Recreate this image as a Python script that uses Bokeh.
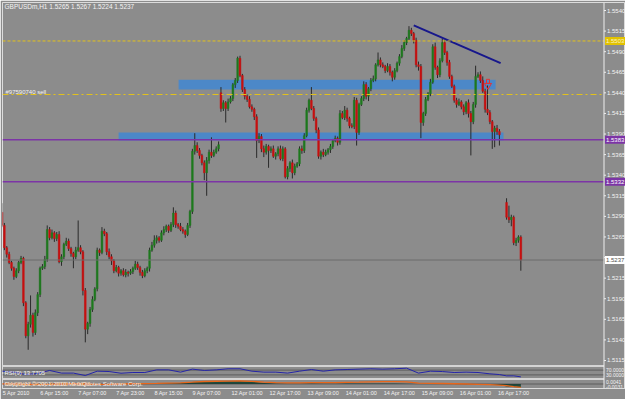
from bokeh.plotting import figure
from bokeh.models import Range1d, FixedTicker, Span, Label
from bokeh.core.properties import value
from bokeh.embed import file_html
from bokeh.resources import INLINE

# ---------------- chart values ----------------
chart_title = "GBPUSDm,H1  1.5265 1.5267 1.5224 1.5237"
order_label = "#97590740 sell"
rsi_label = "RSI(9) 13.7705"
macd_label = "MACD(12,26,9) -0.0030 -0.0028"
copyright_label = "Copyright \u00a9 2001-2010 MetaQuotes Software Corp."

# hourly closes, one per bar (None = no bar drawn)
closes = [
    1.5279, 1.5252, 1.5244, 1.5234, 1.5227, 1.5217, 1.5224, 1.5234, 1.5239, 1.5185,
    1.5145, 1.5159, 1.5170, 1.5149, 1.5173, 1.5195, 1.5227, 1.5229, 1.5238, 1.5274,
    1.5264, 1.5270, 1.5263, 1.5268, 1.5235, 1.5241, 1.5256, 1.5260, 1.5251, 1.5245,
    1.5241, 1.5249, 1.5252, 1.5247, 1.5200, 1.5153, 1.5160, 1.5177, 1.5189, 1.5202,
    1.5249, 1.5246, 1.5272, 1.5269, 1.5247, 1.5241, 1.5236, 1.5224, 1.5228, 1.5221,
    1.5224, 1.5219, 1.5222, 1.5221, 1.5223, 1.5227, 1.5232, 1.5228, 1.5222, 1.5218,
    1.5224, 1.5227, 1.5249, 1.5255, 1.5261, 1.5264, 1.5261, 1.5270, 1.5274, 1.5278,
    1.5273, 1.5280, 1.5294, 1.5280, 1.5278, 1.5274, 1.5272, 1.5268, 1.5279, 1.5296,
    1.5369, 1.5376, 1.5370, 1.5364, 1.5355, 1.5343, 1.5358, 1.5368, 1.5364, 1.5368,
    1.5372, 1.5377, 1.5421, 1.5428, 1.5421, 1.5429, 1.5433, 1.5450, 1.5455, 1.5482,
    1.5461, 1.5444, 1.5436, 1.5432, 1.5423, 1.5420, 1.5411, 1.5382, 1.5387, 1.5372,
    1.5368, 1.5375, 1.5370, 1.5372, 1.5363, 1.5366, 1.5372, 1.5360, 1.5372, 1.5338,
    1.5348, 1.5355, 1.5343, 1.5351, 1.5354, 1.5372, 1.5370, 1.5388, 1.5419, 1.5431,
    1.5421, 1.5409, 1.5395, 1.5363, 1.5368, 1.5365, 1.5368, 1.5371, 1.5375, 1.5382,
    1.5385, 1.5380, 1.5415, 1.5410, 1.5419, 1.5409, 1.5400, 1.5399, 1.5431, 1.5392,
    1.5426, 1.5433, 1.5450, 1.5436, 1.5445, 1.5455, 1.5457, 1.5474, 1.5480, 1.5474,
    1.5472, 1.5467, 1.5472, 1.5465, 1.5459, 1.5467, 1.5476, 1.5484, 1.5494, 1.5501,
    1.5506, 1.5516, 1.5512, 1.5504, 1.5474, 1.5472, 1.5404, 1.5415, 1.5432, 1.5439,
    1.5453, 1.5496, 1.5471, 1.5462, 1.5479, 1.5501, 1.5489, 1.5477, 1.5460, 1.5448,
    1.5431, 1.5426, 1.5429, 1.5423, 1.5417, 1.5428, 1.5415, 1.5405, 1.5426, 1.5460,
    1.5462, 1.5455, 1.5442, 1.5420, 1.5416, 1.5405, 1.5393, 1.5397, 1.5393, 1.5389,
    None, None, 1.5289, 1.5286, 1.5289, 1.5258, 1.5261, 1.5265, 1.5237,
]
# opens that do not follow the previous close (start, weekend gap, data gap)
gap_opens = {0: 1.5295, 92: 1.5440, 212: 1.5307}
# wick lengths above / below the body, in pips
upper_wick_pips = [
    11, 3, 2, 3, 2, 2, 3, 2, 3, 2,
    2, 3, 24, 3, 4, 3, 2, 3, 4, 5,
    3, 4, 2, 3, 4, 3, 2, 4, 3, 2,
    2, 4, 33, 3, 2, 3, 2, 3, 4, 2,
    3, 2, 5, 3, 2, 4, 3, 2, 3, 2,
    2, 3, 4, 2, 3, 2, 4, 3, 2, 3,
    3, 2, 3, 4, 6, 3, 2, 3, 4, 2,
    2, 3, 7, 3, 2, 4, 3, 2, 3, 2,
    3, 15, 4, 3, 2, 3, 4, 3, 18, 3,
    3, 4, 7, 3, 2, 4, 3, 2, 3, 2,
    3, 2, 3, 2, 4, 3, 2, 3, 4, 3,
    4, 3, 2, 3, 4, 2, 3, 4, 3, 2,
    3, 2, 4, 3, 2, 3, 4, 3, 3, 2,
    16, 3, 2, 3, 2, 4, 3, 2, 3, 2,
    3, 2, 4, 3, 5, 3, 2, 3, 4, 3,
    2, 3, 4, 3, 2, 3, 4, 2, 9, 3,
    3, 2, 4, 3, 2, 3, 2, 3, 4, 3,
    2, 5, 3, 2, 3, 4, 3, 2, 3, 2,
    4, 3, 5, 2, 3, 5, 3, 2, 3, 2,
    2, 3, 4, 2, 3, 2, 4, 3, 3, 13,
    3, 4, 5, 3, 29, 3, 2, 3, 4, 3,
    0, 0, 5, 14, 3, 2, 3, 2, 2,
]
lower_wick_pips = [
    2, 3, 4, 2, 3, 4, 2, 3, 2, 4,
    3, 17, 4, 5, 3, 4, 3, 2, 3, 3,
    3, 2, 4, 3, 2, 5, 3, 2, 3, 4,
    14, 3, 2, 3, 6, 16, 6, 4, 3, 2,
    3, 4, 2, 3, 4, 3, 5, 3, 2, 4,
    3, 2, 3, 4, 2, 3, 2, 3, 4, 3,
    2, 3, 4, 2, 3, 4, 3, 2, 3, 3,
    3, 2, 3, 4, 3, 2, 3, 4, 2, 3,
    3, 4, 3, 4, 3, 9, 28, 4, 3, 2,
    2, 3, 4, 3, 17, 3, 2, 3, 4, 3,
    2, 3, 4, 3, 2, 3, 4, 21, 3, 4,
    6, 3, 21, 3, 2, 4, 3, 2, 3, 2,
    3, 4, 7, 3, 2, 3, 4, 3, 2, 3,
    2, 3, 4, 3, 4, 3, 2, 3, 4, 3,
    2, 4, 3, 2, 3, 4, 3, 2, 3, 16,
    3, 2, 3, 4, 6, 3, 2, 3, 2, 3,
    2, 3, 2, 4, 5, 3, 2, 3, 2, 3,
    3, 2, 3, 4, 3, 5, 19, 4, 3, 2,
    3, 2, 3, 4, 3, 2, 3, 4, 3, 2,
    3, 4, 2, 3, 4, 3, 5, 41, 3, 4,
    2, 3, 2, 4, 3, 3, 21, 19, 4, 13,
    0, 0, 3, 4, 8, 3, 4, 3, 13,
]

# drawn objects
resistance_zone = dict(left=74.2, right=207.4, bottom=1.5444, top=1.5456)
support_zone = dict(left=49.0, right=210.7, bottom=1.5382, top=1.5392)
trend_bars = [173.0, 209.5]
trend_prices = [1.5522, 1.5476]
sell_arrow_bar = 204.2
sell_arrow_shaft_price = 1.5454
sell_arrow_head_price = 1.5449
purple_levels = [1.5383, 1.5332]
target_level = 1.5503
order_level = 1.5438
last_price = 1.5237

price_ticks = [1.5115, 1.5140, 1.5165, 1.5190, 1.5215, 1.5240, 1.5265, 1.5290, 1.5315,
               1.5340, 1.5365, 1.5390, 1.5415, 1.5440, 1.5465, 1.5490, 1.5515, 1.5540]
time_tick_bars = [0, 16, 32, 48, 64, 80, 96, 112, 128, 144, 160, 176, 192, 208]
time_tick_labels = ["5 Apr 2010", "6 Apr 15:00", "7 Apr 07:00", "7 Apr 23:00", "8 Apr 15:00",
                    "9 Apr 07:00", "12 Apr 01:00", "12 Apr 17:00", "13 Apr 09:00",
                    "14 Apr 01:00", "14 Apr 17:00", "15 Apr 09:00", "16 Apr 01:00",
                    "16 Apr 17:00"]

# indicator sub-windows (sampled along the bars)
ind_bars = [0, 5, 10, 15, 20, 25, 30, 35, 40, 45, 50, 55, 60, 65, 70, 75, 80, 85, 90, 95,
            100, 105, 110, 115, 120, 125, 130, 135, 140, 145, 150, 155, 160, 165, 170, 175,
            180, 185, 190, 195, 200, 205, 209, 212, 215, 218]
rsi_values = [61, 53, 33, 42, 67, 45, 45, 25, 61, 58, 44, 50, 50, 72, 72, 53, 78, 67, 72, 81,
              81, 61, 53, 53, 45, 61, 75, 61, 72, 75, 78, 81, 78, 81, 86, 45, 61, 58, 50, 53,
              50, 39, 33, 22, 22, 13.77]
macd_signal = [0.0001, 0.0000, -0.0002, -0.0003, -0.0002, 0.0000, 0.0002, 0.0000, -0.0003,
               -0.0002, 0.0000, 0.0002, 0.0003, 0.0005, 0.0008, 0.0010, 0.0015, 0.0021,
               0.0023, 0.0024, 0.0025, 0.0022, 0.0016, 0.0012, 0.0010, 0.0009, 0.0012,
               0.0012, 0.0011, 0.0014, 0.0015, 0.0018, 0.0019, 0.0019, 0.0017, 0.0008,
               0.0005, 0.0004, 0.0002, 0.0000, -0.0003, -0.0006, -0.0009, -0.0014,
               -0.0022, -0.0028]
macd_hist = [0.0001, -0.0001, -0.0003, -0.0002, 0.0000, 0.0001, 0.0001, -0.0002, -0.0003,
             -0.0001, 0.0001, 0.0003, 0.0004, 0.0006, 0.0007, 0.0009, 0.0016, 0.0020,
             0.0022, 0.0023, 0.0024, 0.0020, 0.0008, 0.0004, 0.0003, 0.0003, 0.0004,
             0.0003, 0.0003, 0.0004, 0.0004, 0.0005, 0.0005, 0.0004, 0.0003, 0.0001,
             0.0000, 0.0001, 0.0000, -0.0002, -0.0003, -0.0005, -0.0008, -0.0020,
             -0.0026, -0.0030]
rsi_levels = [70, 30]
rsi_scale_labels = [(70, "70.0000"), (30, "30.0000")]
macd_scale_labels = [(0.0017, "0.0041"), (-0.0021, "-0.0031")]

# ---------------- layout / style ----------------
W, H = 625, 399
FL, FT, FR, FB = 2, 2, 625, 388          # frame edges in canvas pixels
AXIS_PX = 603.5                          # price scale line
BAR0_PX, BAR_PX = 1.5, 2.38              # pixel of bar 0, pixels per bar
BG = "#8c8c8c"
FONT = "Liberation Sans"
TXT = "#f4f4f4"


def vrange(ref_val, ref_px, px_per_unit):
    return Range1d(ref_val - (FB - ref_px) / px_per_unit, ref_val + (ref_px - FT) / px_per_unit)


def bar_at_px(px):
    return (px - BAR0_PX) / BAR_PX


price_rng = vrange(1.5540, 10, 8235.0)
rsi_rng = vrange(100.0, 366, 0.12)
macd_rng = vrange(0.0, 383.5, 1200.0)
x_rng = Range1d(bar_at_px(FL), bar_at_px(FR))
x0 = x_rng.start
x_axis = bar_at_px(AXIS_PX)

p = figure(width=W, height=H, output_backend="svg", toolbar_location=None,
           x_range=x_rng, y_range=price_rng, y_axis_location=None,
           min_border_left=FL, min_border_top=FT, min_border_right=W - FR,
           min_border_bottom=H - FB,
           background_fill_color=BG, border_fill_color=BG,
           outline_line_color="#dcdcdc", outline_line_width=1)
p.extra_y_ranges = {"rsi": rsi_rng, "macd": macd_rng}
p.grid.visible = False

xa = p.xaxis[0]
x_ticks = [b + (6 if len(t) <= 11 else 7) for b, t in zip(time_tick_bars, time_tick_labels)]
xa.ticker = FixedTicker(ticks=x_ticks)
xa.major_label_overrides = {t: lab for t, lab in zip(x_ticks, time_tick_labels)}
xa.major_label_text_font_size = "5.5px"
xa.major_label_text_font = FONT
xa.major_label_text_color = TXT
xa.axis_line_color = "#dcdcdc"
xa.major_tick_out = 0
xa.major_tick_in = 0
xa.minor_tick_out = 0
xa.minor_tick_in = 0
xa.major_label_standoff = 1

# zones (behind candles)
for z in (resistance_zone, support_zone):
    p.quad(left=[z["left"]], right=[z["right"]], bottom=[z["bottom"]], top=[z["top"]],
           fill_color="#4c88c8", line_color=None)

# candles
bx, bo, bc, bh, bl, bcol = [], [], [], [], [], []
prev = None
for i, c in enumerate(closes):
    if c is None:
        prev = None
        continue
    o = gap_opens.get(i, prev)
    bx.append(i)
    bo.append(o)
    bc.append(c)
    bh.append(max(o, c) + upper_wick_pips[i] / 10000.0)
    bl.append(min(o, c) - lower_wick_pips[i] / 10000.0)
    bcol.append("#1e7a1e" if c > o else ("#c81010" if c < o else "#2a2a2a"))
    prev = c

p.segment(x0=bx, y0=bl, x1=bx, y1=bh, line_color="#2a2a2a", line_width=1)
p.vbar(x=bx, width=0.72, top=[max(a, b) for a, b in zip(bo, bc)],
       bottom=[min(a, b) for a, b in zip(bo, bc)], fill_color=bcol, line_color=bcol,
       line_width=0.5)

# trend line and sell arrow
p.line(trend_bars, trend_prices, line_color="#17178c", line_width=2)
p.rect(x=[sell_arrow_bar], y=[sell_arrow_shaft_price], width=3, height=4,
       width_units="screen", height_units="screen", fill_color=None,
       line_color="#e83030", line_width=1)
p.scatter(x=[sell_arrow_bar], y=[sell_arrow_head_price], marker="inverted_triangle",
          size=7, fill_color=None, line_color="#e83030", line_width=1)


# horizontal price lines (end at the price scale)
def hline(y, color, width=1, dash="solid", rng="default"):
    p.segment(x0=[x0], x1=[x_axis], y0=[y], y1=[y], line_color=color, line_width=width,
              line_dash=dash, y_range_name=rng)


for lv in purple_levels:
    hline(lv, "#7c34a6", 1.5)
hline(target_level, "#e3c21a", 1, "3 2")
hline(order_level, "#e3c21a", 1, "6 3 2 3")
hline(last_price, "#6c6c6c", 1)


# indicator sub-windows
def rsi_at_px(py):
    return 100.0 - (py - 366) / 0.12


for py in (365.5, 378.5):
    hline(rsi_at_px(py), "#d4d4d4", 2, rng="rsi")
for lv in rsi_levels:
    hline(lv, "#2e2e2e", 1, "1 1", rng="rsi")
p.line(ind_bars, rsi_values, y_range_name="rsi", line_color="#2424a8", line_width=1)

p.varea(x=ind_bars, y1=[0] * len(ind_bars), y2=macd_hist, y_range_name="macd",
        fill_color="#1d4a3c")
hline(0, "#2e2e2e", 1, "1 1", rng="macd")
p.line(ind_bars, macd_signal, y_range_name="macd", line_color="#e8661a", line_width=1.3)

# price scale drawn at the right edge
p.add_layout(Span(location=x_axis, dimension="height", line_color="#eeeeee", line_width=1))
p.segment(x0=[x_axis] * len(price_ticks), x1=[x_axis + 2 / BAR_PX] * len(price_ticks),
          y0=price_ticks, y1=price_ticks, line_color="#eeeeee", line_width=1)
p.text(x=[x_axis + 3 / BAR_PX] * len(price_ticks), y=price_ticks,
       text=[f"{t:.4f}" for t in price_ticks], text_font=value(FONT),
       text_font_size="6px", text_color=TXT, text_baseline="middle", text_align="left")
for lv, t in rsi_scale_labels:
    p.text(x=[x_axis + 2 / BAR_PX], y=[lv], text=[t], y_range_name="rsi",
           text_font=value(FONT), text_font_size="5px", text_color=TXT,
           text_baseline="middle", text_align="left")
for lv, t in macd_scale_labels:
    p.text(x=[x_axis + 2 / BAR_PX], y=[lv], text=[t], y_range_name="macd",
           text_font=value(FONT), text_font_size="5px", text_color=TXT,
           text_baseline="middle", text_align="left")

# boxes on the price scale
for price, bg, fg in [(target_level, "#e2c200", "#fbf3c8"), (purple_levels[0], "#7c34a6", "#ffffff"),
                      (purple_levels[1], "#7c34a6", "#ffffff"), (last_price, "#ffffff", "#505050")]:
    p.rect(x=[bar_at_px(AXIS_PX + 11)], y=[price], width=20, height=8, width_units="screen",
           height_units="screen", fill_color=bg, line_color=None)
    p.text(x=[bar_at_px(AXIS_PX + 2)], y=[price], text=[f"{price:.4f}"], text_font=value(FONT),
           text_font_size="6px", text_color=fg, text_baseline="middle", text_align="left")


# texts
def sx(px):
    return px - FL


def sy(py):
    return FB - py


def add_text(px, py, text, size="6.5px", color=TXT):
    p.add_layout(Label(x=sx(px), y=sy(py), x_units="screen", y_units="screen", text=text,
                       text_font=FONT, text_font_size=size, text_color=color,
                       text_baseline="middle", text_align="left"))


add_text(4, 6, chart_title)
add_text(5, 91, order_label, size="6px")
add_text(4, 372, rsi_label, size="6px")
add_text(4, 383.5, copyright_label, size="6px")
add_text(4, 383.5, macd_label, size="6px", color="#f0d0b0")

open("out.html", "w").write(file_html(p, INLINE))
